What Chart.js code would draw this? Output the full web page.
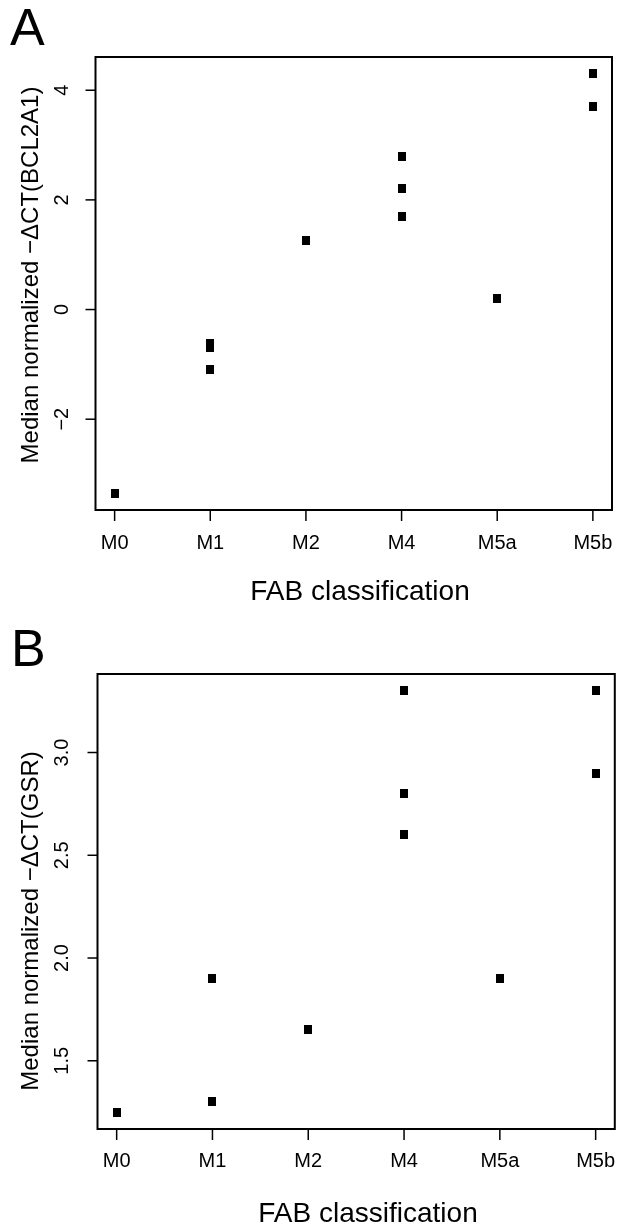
<!DOCTYPE html>
<html>
<head>
<meta charset="utf-8">
<script src="https://cdn.jsdelivr.net/npm/chart.js@4.4.1/dist/chart.umd.min.js"></script>
<style>
html,body{margin:0;padding:0;background:#ffffff;width:624px;height:1228px;overflow:hidden;}
canvas{position:absolute;left:0;}
</style>
</head>
<body>
<canvas id="panelA" width="624" height="614" style="top:0px"></canvas>
<canvas id="panelB" width="624" height="614" style="top:614px"></canvas>
<script>
// ---- data ----
const categories = ['M0', 'M1', 'M2', 'M4', 'M5a', 'M5b'];

const groupsA = ['M0', 'M1', 'M1', 'M1', 'M2', 'M4', 'M4', 'M4', 'M5a', 'M5b', 'M5b'];
const valuesA = [-3.35, -0.62, -0.70, -1.10, 1.26, 2.80, 2.21, 1.70, 0.20, 4.30, 3.71];
const yTicksA = [-2, 0, 2, 4];
const yTickLabelsA = ['\u22122', '0', '2', '4'];

const groupsB = ['M0', 'M1', 'M1', 'M2', 'M4', 'M4', 'M4', 'M5a', 'M5b', 'M5b'];
const valuesB = [1.25, 1.90, 1.30, 1.65, 3.30, 2.80, 2.60, 1.90, 3.30, 2.90];
const yTicksB = [1.5, 2.0, 2.5, 3.0];
const yTickLabelsB = ['1.5', '2.0', '2.5', '3.0'];

const yTitleA = 'Median normalized \u2212\u0394CT(BCL2A1)';
const yTitleB = 'Median normalized \u2212\u0394CT(GSR)';
const xTitle = 'FAB classification';

// ---- helpers ----
const FONT = '"Liberation Sans", Arial, Helvetica, sans-serif';

function makeMarker() {
  const c = document.createElement('canvas');
  c.width = 8; c.height = 9;
  const g = c.getContext('2d');
  g.fillStyle = '#000000';
  g.fillRect(0, 0, 8, 9);
  return c;
}

function rRange(vals) {
  const mn = Math.min(...vals), mx = Math.max(...vals);
  const e = (mx - mn) * 0.04;
  return [mn - e, mx + e];
}

const decorPlugin = {
  id: 'decor',
  afterDraw(chart, args, o) {
    const ctx = chart.ctx;
    const a = chart.chartArea;
    const xs = chart.scales.x, ys = chart.scales.y;
    ctx.save();
    ctx.strokeStyle = '#000';
    ctx.fillStyle = '#000';
    // box
    ctx.lineWidth = 2;
    ctx.strokeRect(a.left, a.top, a.right - a.left, a.bottom - a.top);
    // x ticks + labels
    ctx.lineWidth = 1.5;
    ctx.font = '20px ' + FONT;
    ctx.textAlign = 'center';
    ctx.textBaseline = 'alphabetic';
    categories.forEach((c, i) => {
      const px = xs.getPixelForValue(i);
      ctx.beginPath();
      ctx.moveTo(px, a.bottom);
      ctx.lineTo(px, a.bottom + 11);
      ctx.stroke();
      ctx.fillText(c, px, a.bottom + o.xLabelGap);
    });
    // y ticks + rotated labels
    ctx.font = '20px ' + FONT;
    o.yTicks.forEach((v, i) => {
      const py = ys.getPixelForValue(v);
      ctx.beginPath();
      ctx.moveTo(a.left - 10, py);
      ctx.lineTo(a.left, py);
      ctx.stroke();
      ctx.save();
      ctx.translate(o.yLabelX, py);
      ctx.rotate(-Math.PI / 2);
      ctx.fillText(o.yLabels[i], 0, 0);
      ctx.restore();
    });
    // y title
    ctx.font = '24px ' + FONT;
    ctx.save();
    ctx.translate(o.yTitleX, o.yTitleY);
    ctx.rotate(-Math.PI / 2);
    ctx.fillText(o.yTitle, 0, 0);
    ctx.restore();
    // x title
    ctx.font = '28px ' + FONT;
    ctx.fillText(xTitle, o.xTitleX, o.xTitleY);
    // panel letter
    ctx.font = '52px ' + FONT;
    ctx.textAlign = 'left';
    ctx.fillText(o.letter, o.letterX, o.letterY);
    ctx.restore();
  }
};

function makePanel(id, groups, values, yTicks, yLabels, yTitle, lay) {
  const marker = makeMarker();
  const yr = rRange(values);
  const data = groups.map((g, i) => ({ x: categories.indexOf(g), y: values[i] }));
  return new Chart(document.getElementById(id), {
    type: 'scatter',
    data: {
      datasets: [{
        data: data,
        pointStyle: marker,
        pointRadius: 4,
        pointHoverRadius: 4,
        backgroundColor: '#000',
        borderColor: '#000',
        showLine: false
      }]
    },
    options: {
      responsive: false,
      animation: false,
      devicePixelRatio: 1,
      events: [],
      layout: { padding: lay.padding },
      plugins: {
        legend: { display: false },
        tooltip: { enabled: false },
        decor: {
          yTicks: yTicks, yLabels: yLabels, yTitle: yTitle,
          xLabelGap: lay.xLabelGap, yLabelX: lay.yLabelX,
          yTitleX: lay.yTitleX, yTitleY: lay.yTitleY,
          xTitleX: lay.xTitleX, xTitleY: lay.xTitleY,
          letter: lay.letter, letterX: lay.letterX, letterY: lay.letterY
        }
      },
      scales: {
        x: { type: 'linear', min: -0.2, max: 5.2, display: false },
        y: { type: 'linear', min: yr[0], max: yr[1], display: false }
      }
    },
    plugins: [decorPlugin]
  });
}

makePanel('panelA', groupsA, valuesA, yTicksA, yTickLabelsA, yTitleA, {
  padding: { left: 95.5, right: 12, top: 57, bottom: 104 },
  xLabelGap: 39, yLabelX: 68,
  yTitleX: 37.5, yTitleY: 275,
  xTitleX: 360, xTitleY: 600,
  letter: 'A', letterX: 10, letterY: 45
});

makePanel('panelB', groupsB, valuesB, yTicksB, yTickLabelsB, yTitleB, {
  padding: { left: 97.5, right: 9.2, top: 60, bottom: 99 },
  xLabelGap: 38, yLabelX: 68,
  yTitleX: 37.5, yTitleY: 307,
  xTitleX: 368, xTitleY: 608,
  letter: 'B', letterX: 11, letterY: 52
});
</script>
</body>
</html>
